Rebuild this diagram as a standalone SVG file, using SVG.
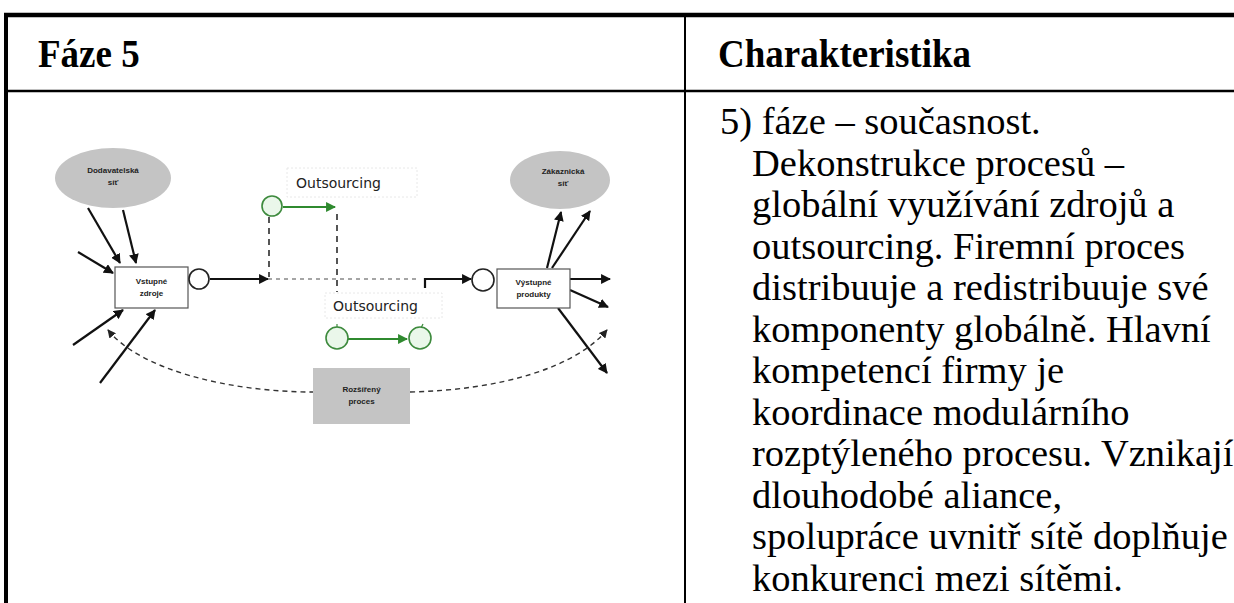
<svg xmlns="http://www.w3.org/2000/svg" width="1234" height="603" viewBox="0 0 1234 603">
  <style>
    .rule { stroke: #000; fill: none; }
    .head { font-family: "Liberation Serif", "Times New Roman", serif; font-weight: bold; font-size: 39px; fill: #000; }
    .body { font-family: "Liberation Serif", "Times New Roman", serif; font-size: 38.5px; fill: #000; }
    .lbl { font-family: "Liberation Sans", Arial, sans-serif; font-weight: bold; font-size: 8px; fill: #222; text-anchor: middle; }
    .out { font-family: "DejaVu Sans", Verdana, sans-serif; font-size: 14px; fill: #222; }
    .cloud { fill: #c4c4c4; }
    .box { fill: #fff; stroke: #555; stroke-width: 1.2; }
    .port { fill: #fff; stroke: #222; stroke-width: 1.6; }
    .gport { fill: #eaf7ea; stroke: #3d8a3d; stroke-width: 1.6; }
    .flow { stroke: #111; stroke-width: 2.2; fill: none; }
    .gflow { stroke: #2f8a2f; stroke-width: 2.2; fill: none; }
    .dash { stroke: #444; stroke-width: 1.8; stroke-dasharray: 6 5; fill: none; }
    .dot { stroke: #888; stroke-width: 1.4; stroke-dasharray: 4 4; fill: none; }
    .arc { stroke: #333; stroke-width: 1.4; stroke-dasharray: 5 4; fill: none; }
    .tag { fill: #fff; stroke: #e2e2e2; stroke-width: 0.8; stroke-dasharray: 2 2; }
  </style>
  <defs>
    <marker id="ah" viewBox="0 0 10 10" refX="9" refY="5" markerWidth="4.5" markerHeight="4.5" orient="auto-start-reverse">
      <path d="M0,0 L10,5 L0,10 z" fill="#111"/>
    </marker>
    <marker id="ahs" viewBox="0 0 10 10" refX="9" refY="5" markerWidth="6" markerHeight="6" orient="auto-start-reverse">
      <path d="M0,0 L10,5 L0,10 z" fill="#222"/>
    </marker>
    <marker id="ahg" viewBox="0 0 10 10" refX="9" refY="5" markerWidth="4.5" markerHeight="4.5" orient="auto">
      <path d="M0,0 L10,5 L0,10 z" fill="#2f8a2f"/>
    </marker>
  </defs>

  <rect width="1234" height="603" fill="#fff"/>

  <!-- table frame -->
  <g id="table">
    <line class="rule" x1="4" y1="15" x2="1234" y2="15" stroke-width="4.5"/>
    <line class="rule" x1="6" y1="13" x2="6" y2="603" stroke-width="4"/>
    <line class="rule" x1="685" y1="15" x2="685" y2="603" stroke-width="2"/>
    <line class="rule" x1="6" y1="91" x2="1234" y2="91" stroke-width="2.5"/>
    <!-- header cells, slightly condensed bold -->
    <g transform="scale(0.95,1)">
      <text class="head" x="40" y="67">Fáze 5</text>
      <text class="head" x="755.8" y="67">Charakteristika</text>
    </g>
  </g>

  <!-- description column -->
  <g id="description" class="body">
    <text x="720" y="134">5) fáze – současnost.</text>
    <text x="752" y="175.5">Dekonstrukce procesů –</text>
    <text x="752" y="217">globální využívání zdrojů a</text>
    <text x="752" y="258.5">outsourcing. Firemní proces</text>
    <text x="752" y="300">distribuuje a redistribuuje své</text>
    <text x="752" y="341.5">komponenty globálně. Hlavní</text>
    <text x="752" y="383">kompetencí firmy je</text>
    <text x="752" y="424.5">koordinace modulárního</text>
    <text x="752" y="466">rozptýleného procesu. Vznikají</text>
    <text x="752" y="507.5">dlouhodobé aliance,</text>
    <text x="752" y="549">spolupráce uvnitř sítě doplňuje</text>
    <text x="752" y="590.5">konkurenci mezi sítěmi.</text>
  </g>

  <!-- connectors -->
  <g id="connectors">
    <!-- supplier inputs -->
    <line class="flow" x1="88" y1="208" x2="120" y2="263" marker-end="url(#ah)"/>
    <line class="flow" x1="123" y1="210" x2="136" y2="263" marker-end="url(#ah)"/>
    <line class="flow" x1="78" y1="252" x2="113" y2="273" marker-end="url(#ah)"/>
    <line class="flow" x1="73" y1="345" x2="123" y2="310" marker-end="url(#ah)"/>
    <line class="flow" x1="100" y1="383" x2="155" y2="310" marker-end="url(#ah)"/>
    <!-- main flow -->
    <line class="flow" x1="210" y1="279" x2="268" y2="279" marker-end="url(#ah)"/>
    <line class="dot" x1="268" y1="279" x2="420" y2="279"/>
    <path class="flow" d="M425,288 V279 H471" marker-end="url(#ah)"/>
    <!-- outsourcing links -->
    <line class="dash" x1="269" y1="217" x2="269" y2="277"/>
    <line class="dash" x1="337" y1="214" x2="337" y2="292"/>
    <line class="gflow" x1="283" y1="207" x2="335" y2="207" marker-end="url(#ahg)"/>
    <line class="gflow" x1="348" y1="339" x2="407" y2="339" marker-end="url(#ahg)"/>
    <line stroke="#3d8a3d" stroke-width="1.2" x1="337" y1="324" x2="337" y2="328"/>
    <line stroke="#3d8a3d" stroke-width="1.2" x1="423" y1="324" x2="421" y2="328"/>
    <!-- product outputs -->
    <line class="flow" x1="547" y1="268" x2="561" y2="212" marker-end="url(#ah)"/>
    <line class="flow" x1="552" y1="268" x2="590" y2="211" marker-end="url(#ah)"/>
    <line class="flow" x1="570" y1="279" x2="610" y2="279" marker-end="url(#ah)"/>
    <line class="flow" x1="570" y1="290" x2="608" y2="307" marker-end="url(#ah)"/>
    <line class="flow" x1="558" y1="308" x2="607" y2="373" marker-end="url(#ah)"/>
    <!-- extended process loop -->
    <path class="arc" d="M108,330 C140,370 230,392 313,392" marker-start="url(#ahs)"/>
    <path class="arc" d="M410,392 C500,390 575,368 607,330" marker-end="url(#ahs)"/>
  </g>

  <g id="supplier-net">
    <ellipse class="cloud" cx="113" cy="178" rx="58" ry="30"/>
    <text class="lbl" x="113" y="173">Dodavatelská</text>
    <text class="lbl" x="113" y="185">síť</text>
  </g>

  <g id="customer-net">
    <ellipse class="cloud" cx="560" cy="180" rx="50" ry="29"/>
    <text class="lbl" x="563" y="174">Zákaznická</text>
    <text class="lbl" x="563" y="186">síť</text>
  </g>

  <g id="input-resources">
    <rect class="box" x="115" y="267" width="73" height="41"/>
    <text class="lbl" x="151.5" y="284">Vstupné</text>
    <text class="lbl" x="151.5" y="296">zdroje</text>
    <circle class="port" cx="199" cy="279" r="10"/>
  </g>

  <g id="output-products">
    <circle class="port" cx="483" cy="280" r="11"/>
    <rect class="box" x="497" y="269" width="73" height="39"/>
    <text class="lbl" x="533.5" y="285">Výstupné</text>
    <text class="lbl" x="533.5" y="297">produkty</text>
  </g>

  <g id="outsourcing-upper">
    <rect class="tag" x="287" y="168" width="130" height="29"/>
    <text class="out" x="296" y="188">Outsourcing</text>
    <circle class="gport" cx="272" cy="206" r="10"/>
  </g>

  <g id="outsourcing-lower">
    <rect class="tag" x="325" y="293" width="117" height="25"/>
    <text class="out" x="333" y="311">Outsourcing</text>
    <circle class="gport" cx="337" cy="338" r="11"/>
    <circle class="gport" cx="420" cy="338" r="11"/>
  </g>

  <g id="extended-process">
    <rect x="313" y="368" width="97" height="56" fill="#c4c4c4"/>
    <text class="lbl" x="361.5" y="392">Rozšířený</text>
    <text class="lbl" x="361.5" y="404">proces</text>
  </g>
</svg>
